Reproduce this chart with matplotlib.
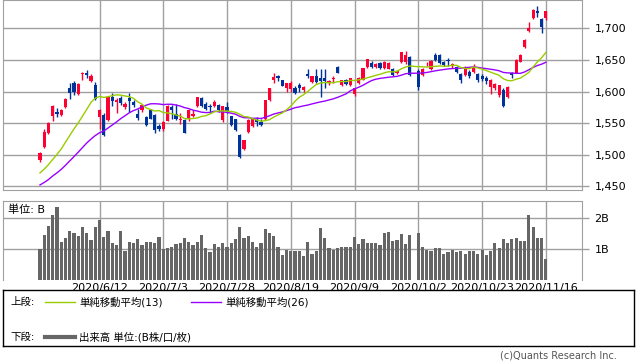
import numpy as np
import pandas as pd
import matplotlib
matplotlib.use('Agg')
import matplotlib.pyplot as plt

plt.rcParams['font.family'] = ['DejaVu Sans', 'Noto Sans CJK JP']

nan = np.nan

# daily OHLC, 2020/5/25 - 2020/11/16 (index 88 = 10/1, no trading)
opens = [
    1492, 1512, 1534, 1562, 1567, 1563, 1575, 1606, 1614, 1596,
    1627, 1629, 1617, 1610, 1560, 1563, 1555, 1591, 1584, 1590,
    1575, 1590, 1584, 1564, 1570, 1560, 1570, 1563, 1545, 1540,
    1554, 1575, 1565, 1555, 1555, 1556, 1561, 1577, 1589, 1581,
    1577, 1577, 1578, 1555, 1576, 1561, 1556, 1531, 1509, 1536,
    1546, 1555, 1552, 1557, 1586, 1618, 1624, 1618, 1606, 1604,
    1606, 1610, 1602, 1627, 1615, 1624, 1621, 1621, 1614, 1620,
    1639, 1610, 1618, 1610, 1596, 1614, 1619, 1639, 1645, 1639,
    1645, 1638, 1636, 1635, 1629, 1646, 1646, 1655, nan, 1633,
    1626, 1643, 1635, 1658, 1658, 1647, 1650, 1640, 1639, 1628,
    1626, 1631, 1631, 1628, 1624, 1622, 1607, 1605, 1594, 1603,
    1592, 1629, 1630, 1647, 1671, 1696, 1717, 1728, 1715, 1716,
]
highs = [
    1504, 1540, 1552, 1578, 1574, 1572, 1590, 1613, 1616, 1613,
    1631, 1634, 1627, 1615, 1572, 1566, 1593, 1597, 1590, 1593,
    1583, 1597, 1586, 1573, 1580, 1562, 1572, 1564, 1549, 1554,
    1578, 1579, 1580, 1566, 1556, 1572, 1570, 1592, 1591, 1583,
    1580, 1586, 1580, 1577, 1583, 1562, 1557, 1533, 1524, 1556,
    1558, 1560, 1556, 1587, 1606, 1630, 1626, 1619, 1614, 1616,
    1608, 1614, 1609, 1636, 1625, 1636, 1636, 1636, 1618, 1624,
    1641, 1619, 1620, 1622, 1606, 1623, 1638, 1652, 1648, 1645,
    1647, 1648, 1647, 1637, 1634, 1663, 1664, 1657, nan, 1635,
    1637, 1647, 1650, 1661, 1660, 1649, 1653, 1645, 1641, 1630,
    1640, 1634, 1643, 1630, 1628, 1625, 1620, 1614, 1611, 1605,
    1608, 1631, 1651, 1660, 1683, 1710, 1730, 1735, 1717, 1728,
]
lows = [
    1488, 1510, 1532, 1553, 1560, 1561, 1574, 1588, 1595, 1595,
    1618, 1621, 1615, 1586, 1540, 1530, 1553, 1577, 1566, 1578,
    1572, 1568, 1576, 1555, 1568, 1545, 1556, 1534, 1537, 1537,
    1553, 1556, 1555, 1549, 1534, 1554, 1559, 1576, 1576, 1570,
    1567, 1576, 1568, 1551, 1566, 1546, 1538, 1495, 1507, 1535,
    1544, 1546, 1545, 1555, 1585, 1613, 1616, 1608, 1600, 1600,
    1596, 1600, 1600, 1622, 1613, 1613, 1591, 1605, 1610, 1614,
    1629, 1608, 1610, 1608, 1593, 1612, 1618, 1638, 1637, 1637,
    1636, 1636, 1635, 1624, 1627, 1645, 1644, 1624, nan, 1602,
    1624, 1640, 1634, 1649, 1643, 1640, 1641, 1638, 1630, 1614,
    1624, 1622, 1629, 1615, 1617, 1612, 1596, 1603, 1592, 1576,
    1590, 1621, 1629, 1646, 1669, 1695, 1715, 1718, 1692, 1714,
]
closes = [
    1502, 1536, 1550, 1577, 1564, 1570, 1588, 1598, 1599, 1612,
    1630, 1626, 1625, 1588, 1571, 1531, 1592, 1585, 1587, 1582,
    1580, 1585, 1578, 1558, 1578, 1547, 1557, 1539, 1540, 1552,
    1577, 1570, 1556, 1557, 1535, 1571, 1565, 1591, 1577, 1572,
    1575, 1584, 1570, 1577, 1569, 1547, 1539, 1496, 1523, 1555,
    1556, 1551, 1547, 1586, 1605, 1623, 1621, 1609, 1613, 1614,
    1598, 1605, 1607, 1624, 1624, 1615, 1616, 1617, 1617, 1622,
    1630, 1618, 1612, 1621, 1605, 1622, 1637, 1651, 1639, 1643,
    1638, 1647, 1645, 1626, 1632, 1662, 1658, 1626, nan, 1607,
    1636, 1644, 1648, 1650, 1645, 1642, 1648, 1643, 1631, 1618,
    1636, 1624, 1639, 1618, 1620, 1617, 1618, 1612, 1610, 1577,
    1607, 1626, 1650, 1658, 1681, 1700, 1729, 1725, 1703, 1727,
]
# closes before the visible window, only used for the moving averages
pre_closes = [
    1433, 1431, 1427, 1437, 1427, 1420, 1418, 1422, 1428, 1440,
    1438, 1465, 1443, 1456, 1458, 1470, 1460, 1460, 1446, 1462,
    1462, 1488, 1492, 1486, 1481,
]
# volume in billions of shares
volume = [
    1.01, 1.46, 1.75, 2.09, 2.37, 1.21, 1.34, 1.57, 1.53, 1.41,
    1.70, 1.53, 1.28, 1.70, 1.93, 1.38, 1.57, 1.18, 1.12, 1.57,
    0.95, 1.21, 1.18, 1.31, 1.14, 1.24, 1.24, 1.18, 1.38, 1.00,
    1.02, 1.08, 1.15, 1.18, 1.34, 1.21, 1.12, 1.24, 1.46, 1.02,
    0.91, 1.15, 1.08, 1.18, 1.08, 1.18, 1.31, 1.70, 1.34, 1.41,
    1.21, 1.08, 1.18, 1.64, 1.51, 1.41, 1.05, 0.82, 0.98, 0.92,
    0.95, 0.92, 0.79, 1.21, 0.85, 0.92, 1.67, 1.34, 1.02, 0.98,
    1.02, 1.08, 1.05, 1.08, 1.38, 1.15, 1.31, 1.18, 1.18, 1.18,
    1.12, 1.51, 1.54, 1.25, 1.28, 1.48, 1.15, 1.44, nan, 1.50,
    1.05, 0.98, 0.92, 1.02, 1.02, 0.85, 0.89, 0.98, 0.89, 0.92,
    0.85, 0.92, 0.95, 0.85, 0.98, 0.82, 0.95, 1.18, 1.02, 1.31,
    1.18, 1.31, 1.34, 1.25, 1.25, 2.09, 1.70, 1.34, 1.34, 0.69,
]
date_ticks = [14, 29, 44, 59, 74, 89, 104, 119]
date_labels = ['2020/6/12', '2020/7/3', '2020/7/28', '2020/8/19',
               '2020/9/9', '2020/10/2', '2020/10/23', '2020/11/16']
price_ticks = [1450, 1500, 1550, 1600, 1650, 1700]

RED = '#ff0033'
BLUE = '#003399'
GRID = '#a0a0a0'
MA13_C = '#99cc00'
MA26_C = '#9900ff'

W, H = 638, 362
fig = plt.figure(figsize=(W / 100, H / 100), dpi=100)


def box(x0, y0, x1, y1):
    # pixel box (top-left origin) -> figure rect
    return [x0 / W, 1 - y1 / H, (x1 - x0) / W, (y1 - y0) / H]


ax = fig.add_axes(box(3, 0, 582, 190))
axv = fig.add_axes(box(3, 201, 582, 280))
axl = fig.add_axes(box(3, 290, 634, 346))

o = np.array(opens, float)
h = np.array(highs, float)
l = np.array(lows, float)
c = np.array(closes, float)
x = np.arange(len(c))

# candles
colors = np.where(c >= o, RED, BLUE)
ax.vlines(x, l, h, colors=colors, lw=1)
body = np.maximum(np.abs(c - o), 1.2)
ax.bar(x, body, bottom=np.minimum(o, c), width=0.75, color=colors, linewidth=0)

# moving averages
s = pd.Series(np.r_[pre_closes, c]).dropna()
n_pre = len(pre_closes)
for win, col in [(26, MA26_C), (13, MA13_C)]:
    ma = s.rolling(win).mean()
    ma = ma[ma.index >= n_pre]
    ax.plot(ma.index - n_pre, ma.values, color=col, lw=1)

xlim = (-8.7, 127.5)
for a in (ax, axv):
    a.set_xlim(*xlim)
    a.set_xticks(date_ticks)
    a.grid(True, color=GRID, lw=1)
    a.set_axisbelow(True)
    for sp in a.spines.values():
        sp.set_color(GRID)
    a.yaxis.tick_right()
    a.tick_params(axis='y', length=5, color=GRID, labelsize=8, pad=4, width=1)
    a.tick_params(axis='x', length=0)

ax.set_ylim(1444, 1745)
ax.set_yticks(price_ticks)
ax.set_yticklabels([f'{v:,}' for v in price_ticks])
ax.set_xticklabels([])

v = np.array(volume, float)
axv.bar(x, v, width=0.75, color='#666666', linewidth=0)
axv.set_ylim(0, 2.548)
axv.set_yticks([1, 2])
axv.set_yticklabels(['1B', '2B'])
axv.set_xticklabels(date_labels, fontsize=8)
axv.tick_params(axis='x', pad=2)
axv.spines['bottom'].set_visible(False)
axv.text(0.009, 0.96, '単位: B', transform=axv.transAxes, fontsize=8,
         va='top', ha='left')

# legend box
axl.set_xlim(0, 631)
axl.set_ylim(56, 0)
axl.set_xticks([])
axl.set_yticks([])
for sp in axl.spines.values():
    sp.set_color('black')
    sp.set_linewidth(1)
fs = 7.5
axl.text(7, 12, '上段:', fontsize=fs, va='center')
axl.plot([42, 72], [12, 12], color=MA13_C, lw=1)
axl.text(76, 12, '単純移動平均(13)', fontsize=fs, va='center')
axl.plot([188, 218], [12, 12], color=MA26_C, lw=1)
axl.text(222, 12, '単純移動平均(26)', fontsize=fs, va='center')
axl.text(7, 47, '下段:', fontsize=fs, va='center')
axl.plot([42, 72], [47, 47], color='#666666', lw=3)
axl.text(76, 47, '出来高 単位:(B株/口/枚)', fontsize=fs, va='center')

fig.text(617 / W, 1 - 356 / H, '(c)Quants Research Inc.', fontsize=7,
         color='#555555', ha='right', va='center')

fig.savefig('out.png', dpi=100)
